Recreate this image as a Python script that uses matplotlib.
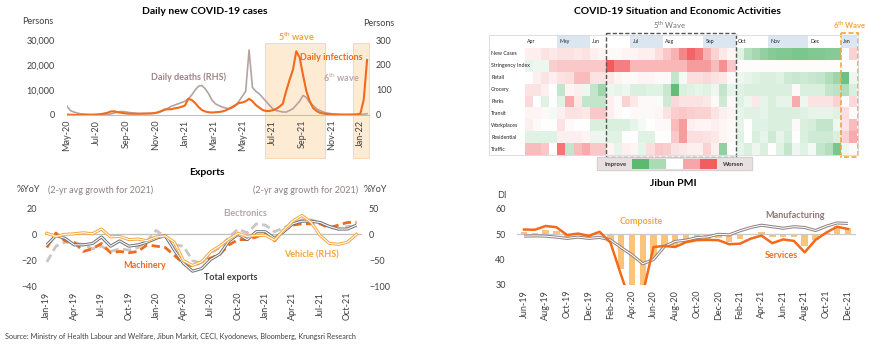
import matplotlib
matplotlib.use('Agg')
import matplotlib.pyplot as plt
import matplotlib.transforms as mtransforms
from matplotlib.patches import Rectangle, FancyBboxPatch
from matplotlib.colors import LinearSegmentedColormap
from matplotlib.ticker import StrMethodFormatter
import numpy as np
import pandas as pd

plt.rcParams['font.family'] = ['Lato', 'DejaVu Sans']
plt.rcParams['mathtext.fontset'] = 'custom'
plt.rcParams['mathtext.rm'] = 'Lato'
plt.rcParams['mathtext.bf'] = 'Lato:bold'

# ---------------- data ----------------
# daily new covid cases, weekly readings from 2020-05-01
covid_start = '2020-05-01'
infections = [200, 100, 60, 30, 40, 40, 50, 60, 100, 200,
              350, 600, 900, 1400, 1500, 1100, 900, 700, 550, 500,
              480, 500, 520, 550, 600, 650, 750, 1100, 1600, 2200,
              2300, 2300, 2700, 2900, 3300, 3800, 6500, 6000, 4800, 3200,
              2000, 1400, 1100, 1000, 1100, 1200, 1400, 1800, 2500, 3200,
              4000, 4800, 5000, 5500, 6500, 5500, 4000, 3000, 2000, 1600,
              1600, 1900, 2400, 3300, 4500, 9500, 14000, 18000, 25500, 23000,
              16000, 9500, 5500, 2800, 1600, 900, 600, 400, 250, 200,
              180, 150, 130, 120, 140, 180, 250, 500, 6000, 22000]
deaths = [35, 18, 12, 8, 5, 4, 3, 2, 2, 2,
          2, 2, 3, 4, 8, 12, 14, 13, 11, 9,
          8, 6, 6, 6, 6, 6, 8, 10, 14, 20,
          28, 35, 40, 45, 50, 55, 65, 80, 100, 115,
          118, 105, 85, 60, 45, 38, 32, 28, 25, 28,
          38, 55, 75, 95, 260, 110, 95, 85, 70, 55,
          40, 25, 18, 15, 12, 12, 18, 25, 40, 55,
          78, 70, 50, 38, 25, 18, 12, 8, 6, 4,
          3, 2, 2, 2, 2, 2, 2, 2, 3, 5]
wave5 = ('2021-06-16', '2021-10-18')
wave6 = ('2021-12-15', '2022-01-18')

# exports, monthly from Jan-19 (%YoY, 2-yr avg for 2021)
exports_start = '2019-01-01'
total_exports = [-8, -1, -3, -8, -8, -7, -2, -9, -5, -9, -8, -6,
                 -3, -1, -12, -22, -28, -26, -19, -15, -5, 0, -4, 2,
                 2, -3, 2, 8, 10, 10, 9, 6, 4, 4, 7]
electronics = [-21, -9, -6, -6, -8, -11, -9, -13, -11, -12, -10, -5,
               3, -2, -8, -9, -20, -22, -14, -10, -2, 4, 1, 8,
               7, 2, 5, 8, 11, 11, 9, 6, 4, 6, 6]
machinery = [-10, 1, -5, -6, -13, -11, -7, -14, -13, -14, -13, -8,
             -9, -10, -16, -22, -24, -21, -18, -15, -8, -4, -4, -2,
             1, -5, 3, 7, 8, 8, 8, 5, 7, 9, 9]
vehicle = [2, -4, 0, 1, 3, 1, 10, -5, -4, -10, -9, -12,
           -5, -3, -15, -50, -59, -52, -33, -22, -9, 2, -4, -2,
           -2, -11, 8, 25, 36, 23, -2, -17, -19, -15, 0]

# heatmap: weekly columns, - improve / + worsen
heat_months = ['Apr', 'May', 'Jun', 'Jul', 'Aug', 'Sep', 'Oct', 'Nov', 'Dec', 'Jan']
month_weeks = [4, 4, 5, 4, 5, 4, 4, 5, 4, 2]
heat_rows = ['New Cases', 'Stringency Index', 'Retail', 'Grocery', 'Parks',
             'Transit', 'Workplaces', 'Residential', 'Traffic']
new_cases = [0.3, 0.3, 0.5, 0.4, 0.5, 0.5, 0.4, 0.5, 0.3, 0.2, 0.1, 0.1, 0.2,
             0.2, 0.3, 0.3, 0.6, 1.0, 1.4, 2.2, 2.8, 2.4, 1.4, 0.8, 0.4, 0.2,
             -0.5, -1.2, -1.5, -1.8, -2.0, -2.1, -2.1, -2.2, -2.2, -2.1, -2.1, -2.0, -2.0,
             0.0, 0.8]
stringency = [-0.4, -0.3, -0.3, 0.9, 1.0, 1.0, 1.0, 1.0, 1.0, 1.0, 3.0, 2.3, 2.3,
              1.3, 1.3, 1.3, 1.3, 1.3, 1.3, 1.3, 1.8, 1.8, 1.8, 1.2, 2.0, 1.0,
              0.05, 0.05, 0.05, 0.05, 0.05, 0.05, 0.05, 0.05, 0.05, 0.05, 0.05, 0.05, 0.05,
              0.05, 0.05]
retail = [0.0, 0.3, 0.5, 0.3, 0.5, 0.6, 1.2, 1.2, 0.5, 0.5, 0.4, 0.2, 0.1,
          0.1, 0.2, 0.2, 0.1, 0.1, -1.0, -0.2, 0.6, 0.6, 0.7, 0.5, 0.4, 0.1,
          -0.3, -0.4, -0.5, -0.6, -0.6, -0.5, -0.8, -0.9, -0.8, -0.9, -1.0, -1.3, -1.6,
          -2.4, -0.3]
grocery = [0.5, 0.5, 0.3, 0.0, -1.0, 0.2, 0.3, -0.3, -1.0, -1.6, -0.3, -0.4, -0.3,
           -0.6, -0.6, -0.5, -0.5, -0.9, -2.6, -0.6, -0.5, -0.4, -0.5, -0.3, -1.0, -0.4,
           -0.5, -0.6, -0.6, -0.6, -0.6, -0.6, -0.6, 0.1, -0.6, -0.6, -0.6, -1.0, -1.1,
           -1.3, -0.6]
parks = [0.7, 0.0, -0.5, 0.0, -0.5, 1.5, 0.4, -1.0, -1.0, -1.0, 0.3, 0.1, 0.8,
         0.4, 0.1, 0.1, -0.1, -0.8, 0.7, 0.5, 0.5, 0.5, 0.4, 0.1, -0.8, 0.1,
         -0.5, -0.3, 0.4, -0.4, -0.6, -0.4, -0.4, 1.5, -0.3, 0.5, 0.5, 0.5, 0.8,
         0.0, 0.7]
transit = [0.2, 0.2, 0.1, -0.2, 0.3, 0.5, 0.5, 0.4, 1.0, 1.0, 0.3, 0.1, 0.0,
           0.1, 0.1, 0.1, 0.2, 0.5, 0.9, 1.0, 0.9, 0.8, 0.8, 0.5, 0.3, 0.2,
           -0.4, -0.5, -0.5, -0.4, -0.6, -0.6, -0.6, -0.6, -0.5, -0.4, -0.4, -0.4, -0.5,
           0.6, 0.1]
workplaces = [0.3, 0.1, 0.0, 0.0, 0.5, 0.1, 0.0, 0.0, -0.6, -0.6, -0.6, -0.6, -0.6,
              -0.4, -0.2, 0.0, 0.1, 0.1, 1.2, 1.8, 0.3, 0.2, 0.2, 0.3, 0.2, 0.1,
              -0.4, 0.0, -0.5, -0.5, -0.6, -0.6, -0.6, 0.1, -0.6, -0.7, -1.0, -1.0, -0.3,
              0.5, 1.2]
residential = [-0.5, -0.5, -0.5, -0.5, 0.3, 0.3, 0.3, 0.2, -0.3, -0.3, -0.5, -0.5, 0.0,
               0.0, -0.5, -0.5, 0.0, 0.0, 1.0, 1.8, 0.6, 0.6, 0.5, 0.4, 0.2, 0.1,
               -0.5, 0.0, -0.6, -0.4, -0.8, -0.4, -0.7, 0.0, -0.6, -0.8, -0.8, -0.8, -0.6,
               0.8, 1.5]
traffic = [1.2, 1.2, 1.0, 0.0, 2.5, -1.0, 1.2, 1.5, 1.0, 1.0, 0.2, -0.4, 0.3,
           0.2, -0.4, 0.6, 1.0, 0.9, 0.5, 0.4, 0.3, 0.3, 0.8, 0.3, -1.8, 0.0,
           -0.4, -0.6, -0.3, -0.6, 0.0, -0.5, -1.0, -0.3, -0.5, -0.2, -1.0, -1.2, -2.2,
           -0.3, 0.1]

# Jibun PMI, monthly from Jun-19
pmi_start = '2019-06-01'
manufacturing = [49.3, 49.4, 49.3, 48.9, 48.4, 48.9, 48.4, 48.8, 47.8, 44.8, 41.9, 38.4,
                 40.1, 45.2, 47.2, 47.7, 48.7, 49.0, 50.0, 49.8, 51.4, 52.7, 53.6, 53.0,
                 52.4, 53.0, 52.7, 51.5, 53.2, 54.5, 54.3]
services = [51.9, 51.8, 53.3, 52.8, 49.7, 50.3, 49.4, 51.0, 46.8, 33.8, 21.5, 26.5,
            45.0, 45.4, 45.0, 46.9, 47.7, 47.8, 47.7, 46.1, 46.3, 48.3, 49.5, 46.5,
            48.0, 47.4, 42.9, 47.8, 50.7, 53.0, 52.1]
composite = [50.8, 50.6, 51.9, 51.5, 49.1, 49.8, 48.6, 50.1, 47.0, 36.2, 25.8, 27.8,
             40.8, 44.9, 45.2, 46.6, 48.0, 48.1, 48.5, 47.1, 48.2, 49.9, 51.0, 48.8,
             48.9, 48.8, 45.5, 47.9, 50.7, 53.3, 52.5]

# ---------------- styling ----------------
ORANGE = '#f26a1b'
GOLD = '#f5a53a'
TXT = '#404040'
W, H = 870, 345

fig = plt.figure(figsize=(8.7, 3.45), dpi=100)


def box(l, t, r, b):
    return [l / W, 1 - b / H, (r - l) / W, (b - t) / H]


def ftext(x, y, s, **kw):
    kw.setdefault('fontsize', 6.5)
    kw.setdefault('ha', 'center')
    kw.setdefault('va', 'center')
    fig.text(x / W, 1 - y / H, s, **kw)


def clean(ax):
    for sp in ax.spines.values():
        sp.set_visible(False)
    ax.tick_params(length=0, labelsize=6.5, colors=TXT)


def double_line(ax, x, y, color, lw=2.2):
    ax.plot(x, y, color=color, lw=lw, solid_capstyle='butt', zorder=4)
    ax.plot(x, y, color='white', lw=lw * 0.35, zorder=4.1)


# ---------------- panel 1: daily covid cases ----------------
dates = pd.date_range(covid_start, periods=len(infections), freq='7D')
ax1 = fig.add_axes(box(67, 40, 369, 115))
ax1b = ax1.twinx()
ax1.set_zorder(ax1b.get_zorder() + 1)
ax1.patch.set_visible(False)

trans = mtransforms.blended_transform_factory(ax1b.transData, ax1b.transAxes)
for w0, w1 in [wave5, wave6]:
    x0 = pd.Timestamp(w0)
    x1 = pd.Timestamp(w1)
    r = Rectangle((x0, -0.57), x1 - x0, 1.53, transform=trans, clip_on=False,
                  facecolor='#fdebd4', edgecolor='#f6d3a8', lw=0.6, zorder=0)
    ax1b.add_patch(r)

ax1b.plot(dates, deaths, color='#b5a3a3', lw=1.2)
ax1.plot(dates, infections, color=ORANGE, lw=1.5)

ax1.set_xlim(pd.Timestamp(covid_start), pd.Timestamp('2022-01-18'))
ax1.set_ylim(0, 30000)
ax1b.set_ylim(0, 300)
ax1.set_yticks([0, 10000, 20000, 30000])
ax1.yaxis.set_major_formatter(StrMethodFormatter('{x:,.0f}'))
ax1b.set_yticks([0, 100, 200, 300])
xt = pd.date_range(covid_start, '2022-01-01', freq='2MS')
ax1.set_xticks(xt)
ax1.set_xticklabels([d.strftime('%b-%y') for d in xt], rotation=90)
clean(ax1)
clean(ax1b)
ax1.spines['bottom'].set_visible(True)
ax1.spines['bottom'].set_color('#bfbfbf')
ax1.tick_params(axis='y', pad=9)
ax1b.tick_params(axis='y', pad=5)

ftext(205, 12, 'Daily new COVID-19 cases', fontsize=7.5, fontweight='bold', color='black')
ftext(22, 21, 'Persons', ha='left', fontsize=6.5, color=TXT)
ftext(363, 23, 'Persons', ha='left', fontsize=6.5, color=TXT)
ftext(296, 37, r'5$^{\mathbf{th}}$ wave', color=GOLD, fontweight='bold', fontsize=6.5)
ftext(331, 57, 'Daily infections', color=ORANGE, fontweight='bold', fontsize=6.5)
ftext(341, 78, r'6$^{\mathrm{th}}$ wave', color='#b8a8a8', fontweight='bold', fontsize=6.5)
ftext(189, 77, 'Daily deaths (RHS)', color='#9d8585', fontweight='bold', fontsize=6.5)

# ---------------- panel 2: exports ----------------
mx = np.arange(len(total_exports))
months = pd.date_range(exports_start, periods=len(total_exports), freq='MS')
ax2 = fig.add_axes(box(45, 208, 362, 287))
ax2b = ax2.twinx()
ax2.set_zorder(ax2b.get_zorder() + 1)
ax2.patch.set_visible(False)

ax2.axhline(0, color='#bfbfbf', lw=0.9, zorder=1)
ax2.plot(mx, electronics, color='#cdc4c4', lw=2.0, ls=(0, (3, 1.6)), zorder=2)
ax2.plot(mx, machinery, color=ORANGE, lw=2.0, ls=(0, (3, 1.6)), zorder=3)
double_line(ax2, mx, total_exports, '#707070', lw=2.2)
ax2.plot(mx, np.array(vehicle) / 2.5, color='none')
veh = np.array(vehicle) / 2.5
ax2.plot(mx, veh, color=GOLD, lw=2.2, zorder=5)
ax2.plot(mx, veh, color='white', lw=0.8, zorder=5.1)

ax2.set_xlim(-0.2, 34.6)
ax2.set_ylim(-40, 20)
ax2b.set_ylim(-100, 50)
ax2.set_yticks([-40, -20, 0, 20])
ax2b.set_yticks([-100, -50, 0, 50])
ax2.set_xticks(mx[::3])
ax2.set_xticklabels([d.strftime('%b-%y') for d in months[::3]], rotation=90)
clean(ax2)
clean(ax2b)
ax2.tick_params(axis='y', pad=6)
ax2b.tick_params(axis='y', pad=5)

ftext(207, 172, 'Exports', fontsize=7.5, fontweight='bold', color='black')
ftext(17, 190, '%YoY', ha='left', color=TXT)
ftext(48, 190, '(2-yr avg growth for 2021)', ha='left', color='#8f8080')
ftext(253, 190, '(2-yr avg growth for 2021)', ha='left', color='#8f8080')
ftext(364, 190, '%YoY', ha='left', color=TXT)
ftext(245, 213, 'Electronics', color='#b5a5a5', fontweight='bold')
ftext(145, 265, 'Machinery', color=ORANGE, fontweight='bold')
ftext(231, 278, 'Total exports', color=TXT, fontweight='bold')
ftext(311, 255, 'Vehicle (RHS)', color=GOLD, fontweight='bold')

# ---------------- panel 3: heatmap ----------------
heat = np.array([new_cases, stringency, retail, grocery, parks,
                 transit, workplaces, residential, traffic])
ncol = heat.shape[1]
hdr = 1.1
ax3 = fig.add_axes(box(525, 35, 857, 155))
cmap = LinearSegmentedColormap.from_list('gwr', ['#4cb263', '#ffffff', '#f25a5c'])
ax3.imshow(heat, cmap=cmap, vmin=-3, vmax=3, aspect='auto',
           extent=(0, ncol, heat.shape[0], 0), interpolation='nearest')
ax3.set_xlim(0, ncol)
ax3.set_ylim(heat.shape[0], -hdr)
start = 0
for i, (m, n) in enumerate(zip(heat_months, month_weeks)):
    if i % 2 == 1:
        ax3.add_patch(Rectangle((start, -hdr), n, hdr, facecolor='#dce6f1',
                                edgecolor='none'))
    ax3.text(start + 0.3, -hdr / 2, m, fontsize=3.8, va='center', ha='left',
             color='#222222')
    start += n
ax3.axis('off')

# frame round labels + grid
fig.add_artist(Rectangle((489 / W, 1 - 155 / H), (858 - 489) / W, 120 / H,
                         transform=fig.transFigure, fill=False,
                         edgecolor='#d8d8d8', lw=0.6))
row_h = (155 - 48) / len(heat_rows)
for i, r in enumerate(heat_rows):
    ftext(491, 48 + (i + 0.5) * row_h, r, ha='left', fontsize=3.8, color='#222222')

# wave boxes
w5_start = sum(month_weeks[:2]) + 2
w5_len = 16
ax3.add_patch(Rectangle((w5_start, -hdr - 0.15), w5_len, heat.shape[0] + hdr + 0.3,
                        fill=False, edgecolor='#555555', lw=1.0, ls=(0, (3, 1.5)),
                        clip_on=False, zorder=5))
w6_start = sum(month_weeks[:-1])
ax3.add_patch(Rectangle((w6_start, -hdr - 0.15), month_weeks[-1] + 0.1,
                        heat.shape[0] + hdr + 0.3, fill=False, edgecolor=GOLD,
                        lw=1.2, ls=(0, (3, 1.5)), clip_on=False, zorder=5))

ftext(677, 12, 'COVID-19 Situation and Economic Activities', fontsize=7.5,
      fontweight='bold', color='black')
ftext(670, 25, r'5$^{\mathrm{th}}$ Wave', fontsize=5.5, color='#707070')
ftext(850, 25, r'6$^{\mathbf{th}}$ Wave', fontsize=5.5, color=GOLD, fontweight='bold')

# legend strip
fig.add_artist(FancyBboxPatch((599 / W, 1 - 170 / H), 152 / W, 12 / H,
                              boxstyle='round,pad=0.002', transform=fig.transFigure,
                              facecolor='#e8e0e0', edgecolor='#cfc6c6', lw=0.6))
leg_colors = ['#5cb96f', '#a9dbb4', '#ffffff', '#f6a6a8', '#ef5f60']
for k, c in enumerate(leg_colors):
    fig.add_artist(Rectangle(((632 + k * 17) / W, 1 - 168.5 / H), 17 / W, 9.5 / H,
                             transform=fig.transFigure, facecolor=c, edgecolor='none'))
ftext(616, 164, 'Improve', fontsize=4.2, fontweight='bold', color='#333333')
ftext(733, 164, 'Worsen', fontsize=4.2, fontweight='bold', color='#333333')

# ---------------- panel 4: Jibun PMI ----------------
px = np.arange(len(manufacturing))
pm = pd.date_range(pmi_start, periods=len(manufacturing), freq='MS')
ax4 = fig.add_axes(box(517, 209, 856, 285))
ax4.bar(px, np.array(composite) - 50, bottom=50, width=0.6, color='#fcc47a', zorder=1)
ax4.axhline(50, color='#c8c8c8', lw=0.9, zorder=2)
double_line(ax4, px, manufacturing, '#8f7f7f', lw=2.2)
ax4.plot(px, services, color=ORANGE, lw=1.8, zorder=5)
ax4.set_xlim(-0.65, len(px) - 0.25)
ax4.set_ylim(30, 60)
ax4.set_yticks([30, 40, 50, 60])
ax4.set_xticks(px[::2])
ax4.set_xticklabels([d.strftime('%b-%y') for d in pm[::2]], rotation=90)
clean(ax4)
ax4.tick_params(axis='y', pad=8)

ftext(673, 183, 'Jibun PMI', fontsize=7.5, fontweight='bold', color='black')
ftext(497, 196, 'DI', ha='left', color=TXT)
ftext(641, 222, 'Composite', color=GOLD, fontweight='bold')
ftext(795, 215, 'Manufacturing', color='#8c7474', fontweight='bold')
ftext(781, 255, 'Services', color=ORANGE, fontweight='bold')

# ---------------- footer ----------------
ftext(5, 336, 'Source: Ministry of Health Labour and Welfare, Jibun Markit, CECI, '
      'Kyodonews, Bloomberg, Krungsri Research', ha='left', fontsize=5.2, color=TXT)

fig.savefig('out.png', dpi=100)
